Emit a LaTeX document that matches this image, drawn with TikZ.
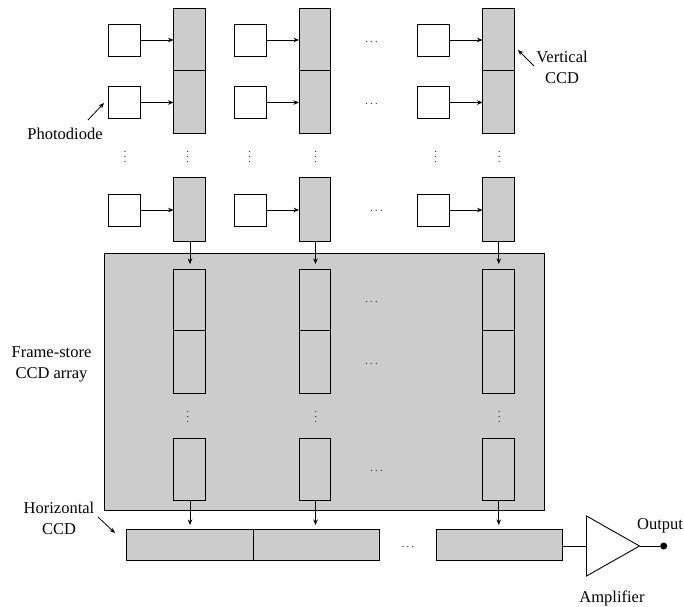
\documentclass[tikz,border=0pt]{standalone}
\usepackage{xcolor}
\usepackage{fontspec}
\setmainfont{Liberation Serif}
\usetikzlibrary{positioning, arrows.meta, shapes.geometric}
\definecolor{cellgray}{HTML}{CCCCCC}

\begin{document}
\begin{tikzpicture}[
  x=1pt, y=-1pt,
  node distance=0pt,
  cell/.style={draw=black, line width=0.9pt, outer sep=0pt, inner sep=0pt},
  diode/.style={cell, fill=white, minimum width=32pt, minimum height=32pt, yshift=-0.75pt},
  vcell/.style={cell, fill=cellgray, minimum width=31.5pt, minimum height=62.5pt},
  scell/.style={cell, fill=cellgray, minimum width=31.5pt, minimum height=62.5pt},
  hcell/.style={cell, fill=cellgray, minimum width=126.5pt, minimum height=31.5pt},
  store/.style={cell, fill=cellgray, minimum width=440pt, minimum height=257pt},
  amp/.style={cell, isosceles triangle, isosceles triangle stretches, fill=white,
              minimum width=60pt, minimum height=53pt},
  lbl/.style={align=center, font=\fontsize{16.5}{21}\selectfont, inner sep=0pt},
  hdots/.style={font=\fontsize{10.5}{10.5}\selectfont, inner sep=0pt},
  vdotsn/.style={hdots, rotate=90},
  arr/.style={-{Stealth[length=5.5pt, width=4.5pt]}, line width=0.8pt},
  wire/.style={line width=0.9pt}
]
\useasboundingbox (0,0) rectangle (684,606);

% imaging area
\node[vcell] (ccd11) at (189.25,39.25) {};
\node[vcell, below=of ccd11] (ccd21) {};
\node[vcell, below=44.5pt of ccd21, minimum height=63.5pt] (ccd31) {};
\node[vcell, right=94pt of ccd11] (ccd12) {};
\node[vcell, below=of ccd12] (ccd22) {};
\node[vcell, below=44.5pt of ccd22, minimum height=63.5pt] (ccd32) {};
\node[vcell, right=152pt of ccd12] (ccd13) {};
\node[vcell, below=of ccd13] (ccd23) {};
\node[vcell, below=44.5pt of ccd23, minimum height=63.5pt] (ccd33) {};

\node[diode, left=33pt of ccd11] (pd11) {};
\node[diode, left=33pt of ccd21] (pd21) {};
\node[diode, left=33pt of ccd31] (pd31) {};
\node[diode, left=33pt of ccd12] (pd12) {};
\node[diode, left=33pt of ccd22] (pd22) {};
\node[diode, left=33pt of ccd32] (pd32) {};
\node[diode, left=33pt of ccd13] (pd13) {};
\node[diode, left=33pt of ccd23] (pd23) {};
\node[diode, left=33pt of ccd33] (pd33) {};

\draw[arr] (pd11) -- (pd11 -| ccd11.west);
\draw[arr] (pd21) -- (pd21 -| ccd21.west);
\draw[arr] (pd31) -- (pd31 -| ccd31.west);
\draw[arr] (pd12) -- (pd12 -| ccd12.west);
\draw[arr] (pd22) -- (pd22 -| ccd22.west);
\draw[arr] (pd32) -- (pd32 -| ccd32.west);
\draw[arr] (pd13) -- (pd13 -| ccd13.west);
\draw[arr] (pd23) -- (pd23 -| ccd23.west);
\draw[arr] (pd33) -- (pd33 -| ccd33.west);

\node[hdots] (dots1) at (371.5,41.5) {$\ldots$};
\node[hdots] (dots2) at (371.5,103.5) {$\ldots$};
\node[hdots] (dots3) at (376.5,211) {$\ldots$};
\node[vdotsn] (vd1) at (125,157) {$\ldots$};
\node[vdotsn] (vd2) at (187.7,157) {$\ldots$};
\node[vdotsn] (vd3) at (249.7,157) {$\ldots$};
\node[vdotsn] (vd4) at (315.7,157) {$\ldots$};
\node[vdotsn] (vd5) at (435.7,157) {$\ldots$};
\node[vdotsn] (vd6) at (499.3,157) {$\ldots$};

% frame store
\node[store] (fstore) at (324.75,381.5) {};
\node[scell, minimum height=61pt] (fs11) at (189.25,299.5) {};
\node[scell, below=of fs11, minimum height=63pt] (fs21) {};
\node[scell, below=45pt of fs21] (fs31) {};
\node[scell, right=94pt of fs11, minimum height=61pt] (fs12) {};
\node[scell, below=of fs12, minimum height=63pt] (fs22) {};
\node[scell, below=45pt of fs22] (fs32) {};
\node[scell, right=152pt of fs12, minimum height=61pt] (fs13) {};
\node[scell, below=of fs13, minimum height=63pt] (fs23) {};
\node[scell, below=45pt of fs23] (fs33) {};

\draw[arr, shorten >=5pt] ([xshift=0.75pt]ccd31.south) -- ([xshift=0.75pt]fs11.north);
\draw[arr, shorten >=5pt] ([xshift=0.75pt]ccd32.south) -- ([xshift=0.75pt]fs12.north);
\draw[arr, shorten >=5pt] ([xshift=0.5pt]ccd33.south) -- ([xshift=0.5pt]fs13.north);

\node[hdots] (dots4) at (371.5,301.5) {$\ldots$};
\node[hdots] (dots5) at (371.5,363.5) {$\ldots$};
\node[hdots] (dots6) at (376.5,471) {$\ldots$};
\node[vdotsn] (vd7) at (187.7,417.3) {$\ldots$};
\node[vdotsn] (vd8) at (315.7,417.3) {$\ldots$};
\node[vdotsn] (vd9) at (499.3,417.3) {$\ldots$};

% horizontal register and output
\node[hcell] (hc1) at (189.75,544.75) {};
\node[hcell, right=of hc1] (hc2) {};
\node[hcell, right=56.5pt of hc2] (hc3) {};
\node[hdots] (dots7) at (408,546.5) {$\ldots$};

\draw[arr, shorten >=4pt] ([xshift=0.75pt]fs31.south) -- ([xshift=0.75pt]fs31.south |- hc1.north);
\draw[arr, shorten >=4pt] ([xshift=0.75pt]fs32.south) -- ([xshift=0.75pt]fs32.south |- hc2.north);
\draw[arr, shorten >=4pt] ([xshift=0.5pt]fs33.south) -- ([xshift=0.5pt]fs33.south |- hc3.north);

\node[amp, right=24pt of hc3, yshift=-1.25pt] (amplifier) {};
\node[circle, fill=black, inner sep=0pt, minimum size=7pt, right=20.5pt of amplifier.east] (outdot) {};
\draw[wire] (amplifier.west -| hc3.east) -- (amplifier.west);
\draw[wire] (amplifier.east) -- (outdot);

% labels
\node[lbl] (lphoto) at (65,134) {Photodiode};
\node[lbl] (lvert) at (562,67.5) {Vertical\\CCD};
\node[lbl] (lstore) at (51.5,364) {Frame-store\\CCD array};
\node[lbl] (lhoriz) at (59,518.5) {Horizontal\\CCD};
\node[lbl] (loutput) at (660,525.5) {Output};
\node[lbl] (lamp) at (612,598) {Amplifier};

\coordinate (phototail) at (88,120);
\coordinate (phototip) at (104,103);
\coordinate (verttail) at (534,66);
\coordinate (verttip) at (518,50);
\coordinate (horiztail) at (98,517);
\coordinate (horiztip) at (115,533);
\draw[arr] (phototail) -- (phototip);
\draw[arr] (verttail) -- (verttip);
\draw[arr] (horiztail) -- (horiztip);
\end{tikzpicture}
\end{document}
